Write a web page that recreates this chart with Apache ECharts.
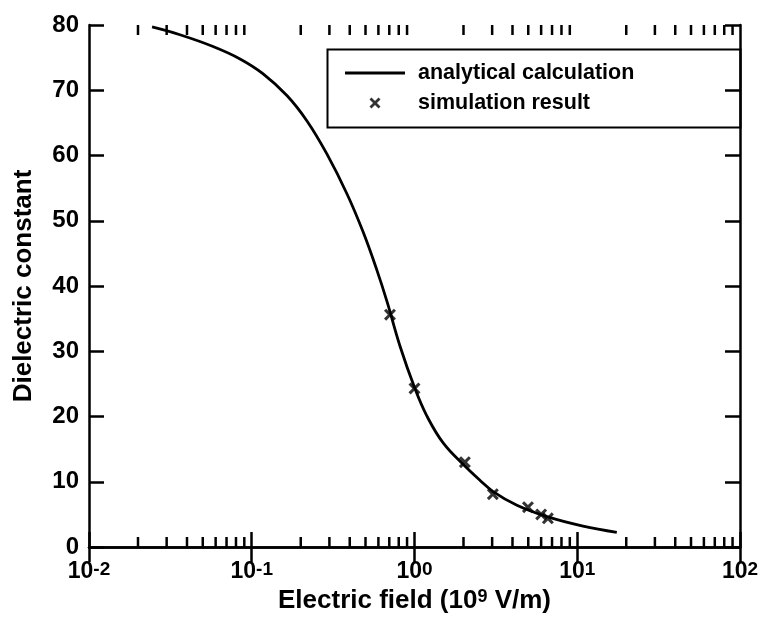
<!DOCTYPE html>
<html>
<head>
<meta charset="utf-8">
<script src="https://cdn.jsdelivr.net/npm/echarts@6/dist/echarts.min.js"></script>
<style>
html,body{margin:0;padding:0;background:#fff;}
#chart{width:765px;height:619px;}
</style>
</head>
<body>
<div id="chart"></div>
<script>
// ---- data ----
const curveX = [0.0244, 0.0362, 0.0578, 0.0847, 0.117, 0.165, 0.219, 0.29, 0.385, 0.483, 0.588, 0.678, 0.814, 1.007, 1.19, 1.5, 2.04, 2.53, 3.04, 4.26, 6.52, 10.85, 17.5];
const curveY = [79.7, 78.5, 76.7, 74.8, 72.55, 69.15, 65.25, 60.2, 54.1, 48.3, 42.4, 37.6, 30.8, 24.25, 20.1, 15.95, 12.4, 10.2, 8.5, 6.4, 4.65, 3.2, 2.25];
const simX = [0.707, 1.0, 2.04, 3.03, 4.98, 6.0, 6.6];
const simY = [35.6, 24.3, 13.0, 8.1, 6.1, 5.0, 4.4];
const minorTickX = [0.02,0.03,0.04,0.05,0.06,0.07,0.08,0.09,
                    0.2,0.3,0.4,0.5,0.6,0.7,0.8,0.9,
                    2,3,4,5,6,7,8,9,
                    20,30,40,50,60,70,80,90];
const seriesNames = ['analytical calculation', 'simulation result'];
const xName = 'Electric field (10{s|9} V/m)';
const yName = 'Dielectric constant';

const FONT = '"Liberation Sans", Arial, Helvetica, sans-serif';
const X_PATH = 'path://M0,1.8 L1.8,0 L5,3.2 L8.2,0 L10,1.8 L6.8,5 L10,8.2 L8.2,10 L5,6.8 L1.8,10 L0,8.2 L3.2,5 Z';

const chart = echarts.init(document.getElementById('chart'), null, {renderer: 'canvas'});

function xLabel(v) {
  const e = Math.round(Math.log10(v));
  return '{b|10}{s|' + e + '}';
}

const axisLineStyle = {color: '#000', width: 2.5};

const option = {
  backgroundColor: '#fff',
  animation: false,
  grid: {left: 89, right: 25, top: 25, bottom: 72, containLabel: false},
  legend: {
    orient: 'vertical',
    left: 340,
    top: 57,
    itemWidth: 60,
    itemHeight: 11,
    itemGap: 8,
    selectedMode: false,
    textStyle: {fontFamily: FONT, fontWeight: 'bold', fontSize: 21.5, color: '#000', padding: [0, 0, 0, 8]},
    data: [
      {name: seriesNames[0], icon: 'path://M0,0 L60,0 L60,3 L0,3 Z'},
      {name: seriesNames[1], icon: X_PATH}
    ]
  },
  graphic: [{
    type: 'rect',
    left: 325, top: 47,
    shape: {width: 413, height: 78},
    style: {fill: 'none', stroke: '#000', lineWidth: 2},
    z: 10
  }],
  xAxis: [{
    type: 'log', logBase: 10, min: 0.01, max: 100,
    position: 'bottom',
    name: xName,
    nameLocation: 'middle',
    nameGap: 41,
    nameTextStyle: {
      fontFamily: FONT, fontWeight: 'bold', fontSize: 26, color: '#000',
      rich: {s: {fontFamily: FONT, fontWeight: 'bold', fontSize: 18, color: '#000', verticalAlign: 'top', lineHeight: 16}}
    },
    axisLine: {show: true, lineStyle: axisLineStyle},
    axisTick: {show: true, inside: true, length: 15, lineStyle: {color: '#000', width: 2.5}},
    splitLine: {show: false},
    minorTick: {show: false},
    axisLabel: {
      margin: 13,
      formatter: xLabel,
      rich: {
        b: {fontFamily: FONT, fontWeight: 'bold', fontSize: 23, color: '#000', lineHeight: 24, verticalAlign: 'top'},
        s: {fontFamily: FONT, fontWeight: 'bold', fontSize: 19, color: '#000', lineHeight: 19, verticalAlign: 'top'}
      }
    }
  }, {
    type: 'log', logBase: 10, min: 0.01, max: 100,
    position: 'top',
    axisLine: {show: true, lineStyle: axisLineStyle},
    axisTick: {show: true, inside: true, length: 15, lineStyle: {color: '#000', width: 2.5}},
    axisLabel: {show: false},
    splitLine: {show: false}
  }],
  yAxis: [{
    type: 'value', min: 0, max: 80, interval: 10,
    position: 'left',
    name: yName,
    nameLocation: 'middle',
    nameGap: 52,
    nameTextStyle: {fontFamily: FONT, fontWeight: 'bold', fontSize: 26, color: '#000'},
    axisLine: {show: true, lineStyle: axisLineStyle},
    axisTick: {show: true, inside: true, length: 15, lineStyle: {color: '#000', width: 2.5}},
    splitLine: {show: false},
    axisLabel: {margin: 10, fontFamily: FONT, fontWeight: 'bold', fontSize: 24, color: '#000'}
  }, {
    type: 'value', min: 0, max: 80, interval: 10,
    position: 'right',
    axisLine: {show: true, lineStyle: axisLineStyle},
    axisTick: {show: true, inside: true, length: 15, lineStyle: {color: '#000', width: 2.5}},
    splitLine: {show: false},
    axisLabel: {show: false}
  }],
  series: [{
    name: seriesNames[0],
    type: 'line',
    xAxisIndex: 0, yAxisIndex: 0,
    data: curveX.map((x, i) => [x, curveY[i]]),
    smooth: 0.4,
    symbol: 'none',
    lineStyle: {color: '#000', width: 2.8},
    itemStyle: {color: '#000'},
    z: 3
  }, {
    name: seriesNames[1],
    type: 'scatter',
    xAxisIndex: 0, yAxisIndex: 0,
    data: simX.map((x, i) => [x, simY[i]]),
    symbol: X_PATH,
    symbolSize: 12,
    itemStyle: {color: '#000'},
    z: 4
  }, {
    name: 'minor ticks',
    type: 'custom',
    xAxisIndex: 0, yAxisIndex: 0,
    data: minorTickX.map(x => [x, 0]),
    encode: {x: 0, y: 1},
    clip: false,
    silent: true,
    renderItem: function (params, api) {
      const p = api.coord([api.value(0), 0]);
      const cs = params.coordSys;
      const st = {stroke: '#000', lineWidth: 2.5};
      return {
        type: 'group',
        children: [
          {type: 'line', shape: {x1: p[0], y1: cs.y + cs.height, x2: p[0], y2: cs.y + cs.height - 10}, style: st},
          {type: 'line', shape: {x1: p[0], y1: cs.y, x2: p[0], y2: cs.y + 10}, style: st}
        ]
      };
    },
    z: 5
  }]
};
chart.setOption(option);
</script>
</body>
</html>
